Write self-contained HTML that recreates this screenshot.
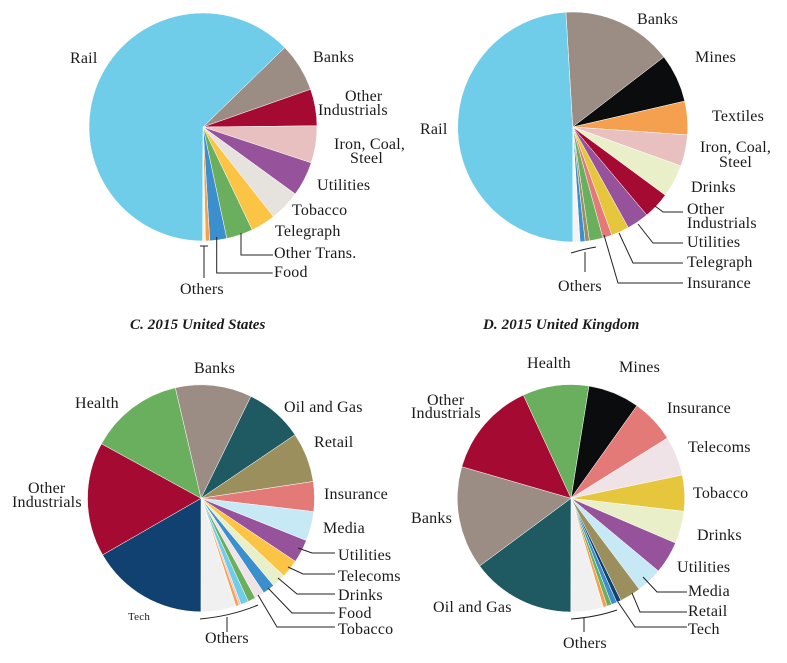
<!DOCTYPE html>
<html><head><meta charset="utf-8"><style>
html,body{margin:0;padding:0;background:#fff;}
svg{display:block;}
text{font-family:"Liberation Serif",serif;font-size:16px;letter-spacing:0.2px;fill:#1a1a1a;}
.t{font-weight:bold;font-style:italic;font-size:15px;letter-spacing:0.1px;}
.l{fill:none;stroke:#222;stroke-width:1;}
</style></head><body>
<svg id="chart" width="787" height="663" viewBox="0 0 787 663">
<g id="pA"></g>
<g id="pB"></g>
<g id="pC"></g>
<g id="pD"></g>

<text class="t" x="130" y="329">C. 2015 United States</text>
<text class="t" x="483" y="329">D. 2015 United Kingdom</text>

<g>
<text x="70" y="63">Rail</text>
<text x="313" y="62">Banks</text>
<text x="345" y="101">Other</text>
<text x="318" y="115">Industrials</text>
<text x="334" y="149">Iron, Coal,</text>
<text x="350" y="163">Steel</text>
<text x="317" y="190">Utilities</text>
<text x="292" y="215">Tobacco</text>
<text x="275" y="236">Telegraph</text>
<text x="274" y="258">Other Trans.</text>
<text x="274" y="277">Food</text>
<text x="180" y="294">Others</text>
<path class="l" d="M241,233V255H273 M216.7,237V273H272.7 M200,246H208 M204,246V278"/>
</g>
<g>
<text x="420" y="134">Rail</text>
<text x="637" y="24">Banks</text>
<text x="695" y="62">Mines</text>
<text x="712" y="121">Textiles</text>
<text x="700" y="152">Iron, Coal,</text>
<text x="719" y="167">Steel</text>
<text x="691" y="192">Drinks</text>
<text x="687" y="214">Other</text>
<text x="687" y="228">Industrials</text>
<text x="687" y="247">Utilities</text>
<text x="687" y="267">Telegraph</text>
<text x="687" y="288">Insurance</text>
<text x="558" y="291">Others</text>
<path class="l" d="M655,206L663,212H683 M638,224L653,243H683 M619,233L633,263H683 M604,235L618,283H683 M571,253Q584,249 596,247 M585,252V272"/>
</g>
<g>
<text x="194" y="373">Banks</text>
<text x="75" y="408">Health</text>
<text x="284" y="412">Oil and Gas</text>
<text x="314" y="447">Retail</text>
<text x="28" y="493">Other</text>
<text x="12" y="507">Industrials</text>
<text x="324" y="499">Insurance</text>
<text x="323" y="533">Media</text>
<text x="338" y="560">Utilities</text>
<text x="338" y="581">Telecoms</text>
<text x="338" y="600">Drinks</text>
<text x="338" y="618">Food</text>
<text x="338" y="634">Tobacco</text>
<text x="128" y="620" style="font-size:11px">Tech</text>
<text x="205" y="643">Others</text>
<path class="l" d="M298,548L312,553H335 M288,567L303,574H335 M278,578L297,594H335 M268,588L292,613H335 M258,595L277,627H335 M200,619Q232,616 258,605 M227,617V632"/>
</g>
<g>
<text x="527" y="368">Health</text>
<text x="619" y="372">Mines</text>
<text x="427" y="405">Other</text>
<text x="411" y="418">Industrials</text>
<text x="667" y="413">Insurance</text>
<text x="688" y="452">Telecoms</text>
<text x="693" y="498">Tobacco</text>
<text x="411" y="523">Banks</text>
<text x="697" y="540">Drinks</text>
<text x="677" y="572">Utilities</text>
<text x="688" y="596">Media</text>
<text x="688" y="616">Retail</text>
<text x="688" y="634">Tech</text>
<text x="433" y="612">Oil and Gas</text>
<text x="563" y="648">Others</text>
<path class="l" d="M643,577L657,592H687 M632,593L640,612H687 M618,602L635,627H687 M571,619Q597,617 617,610 M584,618V632"/>
</g>
</svg>
<script>
// Pie A
const catsA = ["Banks","Other Industrials","Iron, Coal, Steel","Utilities","Tobacco","Telegraph","Other Trans.","Food","Others-1","Others-2","Rail"];
const valsA = [6.9,5.2,5.25,4.9,4.4,3.5,3.75,2.4,0.6,0.4,62.6];
const colsA = ["#9b8c84","#a50a33","#e8c0c0","#96529a","#e6e3df","#fbc444","#6aaf5d","#3a8fcc","#f4a04f","#fff3d0","#6fcde9"];
// Pie B
const catsB = ["Banks","Mines","Textiles","Iron, Coal, Steel","Drinks","Other Industrials","Utilities","Telegraph","Insurance","Others-1","Others-2","Others-3","Others-4","Rail"];
const valsB = [15.5,6.8,4.7,4.4,4.6,3.75,3.1,2.5,1.3,1.9,0.6,0.7,1.0,49];
const colsB = ["#9b8c84","#0a0c0e","#f4a04f","#e8c0c0","#e9efc8","#a50a33","#96529a","#e6c63c","#e37a78","#6aaf5d","#9b8f5d","#3a8fcc","#f4f4f4","#6fcde9"];
// Pie C (2015 United States)
const catsC = ["Banks","Oil and Gas","Retail","Insurance","Media","Utilities","Telecoms","Drinks","Food","Tobacco","Others-1","Others-2","Others-3","Others-4","Others-5","Tech","Other Industrials","Health"];
const valsC = [10.9,8.3,7.1,4.25,4.2,3.3,2.6,2.0,1.7,1.4,1.1,1.1,0.3,0.45,5.0,16.7,16.3,13.4];
const colsC = ["#9b8c84","#1f5a63","#9b8f5d","#e37a78","#c7e8f5","#96529a","#fbc444","#e9efc8","#3a8fcc","#efe3e8","#6aaf5d","#6fcde9","#f2c0c0","#f4a04f","#f0f0f0","#114170","#a50a33","#6aaf5d"];
// Pie D (2015 United Kingdom)
const catsD = ["Health","Mines","Insurance","Telecoms","Tobacco","Drinks","Utilities","Media","Retail","Tech","Others-1","Others-2","Others-3","Others-4","Oil and Gas","Banks","Other Industrials"];
const valsD = [9.4,7.3,6.25,5.6,5.1,4.6,4.6,3.7,3.0,0.64,0.78,0.67,0.56,4.6,14.8,14.6,13.6];
const colsD = ["#6aaf5d","#0a0c0e","#e37a78","#efe3e8","#e6c63c","#e9efc8","#96529a","#c7e8f5","#9b8f5d","#114170","#3a8fcc","#6aaf5d","#f4a04f","#f0f0f0","#1f5a63","#9b8c84","#a50a33"];

const NS = "http://www.w3.org/2000/svg";
function pt(cx, cy, r, deg) { const a = deg * Math.PI / 180; return [cx + r * Math.sin(a), cy - r * Math.cos(a)]; }
function drawPie(gid, cats, vals, cols, cx, cy, r, start) {
  const g = document.getElementById(gid);
  const total = vals.reduce((s, v) => s + v, 0);
  let a0 = start;
  vals.forEach((v, i) => {
    const sweep = v / total * 360;
    const a1 = a0 + sweep;
    const p0 = pt(cx, cy, r, a0), p1 = pt(cx, cy, r, a1);
    const path = document.createElementNS(NS, "path");
    path.setAttribute("d", `M${cx},${cy}L${p0[0].toFixed(2)},${p0[1].toFixed(2)}A${r},${r} 0 ${sweep > 180 ? 1 : 0} 1 ${p1[0].toFixed(2)},${p1[1].toFixed(2)}Z`);
    path.setAttribute("fill", cols[i]);
    path.setAttribute("stroke", "#ffffff");
    path.setAttribute("stroke-width", "0.5");
    
    
    g.appendChild(path);
    a0 = a1;
  });
}
drawPie("pA", catsA, valsA, colsA, 203, 127, 114, 45.8);
drawPie("pB", catsB, valsB, colsB, 572.7, 127, 115, 356.6);
drawPie("pC", catsC, valsC, colsC, 201, 498.3, 113.5, 346.9);
drawPie("pD", catsD, valsD, colsD, 571, 498.3, 113.7, 335.2);
</script>
</body></html>
